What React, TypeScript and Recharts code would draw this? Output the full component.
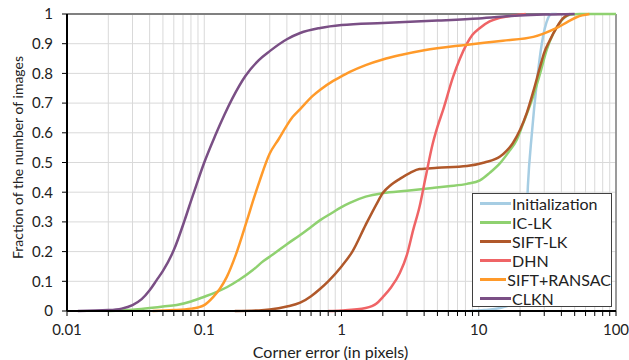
import React from 'react';
import { LineChart, Line, XAxis, YAxis, CartesianGrid, Legend, ReferenceLine } from 'recharts';

// Cumulative error curves
const initX = [8.6, 11, 14.3, 17, 20, 21, 22, 22.8, 24.4, 26.5, 28.8, 31.9, 34, 37];
const initY = [0, 0.003, 0.01, 0.02, 0.037, 0.08, 0.25, 0.42, 0.6, 0.77, 0.9, 0.985, 1, 1];

const iclkX = [0.02, 0.03, 0.04, 0.05, 0.063, 0.08, 0.1, 0.12, 0.146, 0.18, 0.226, 0.27, 0.316, 0.4, 0.5, 0.6, 0.7, 0.85, 1, 1.15, 1.5, 2, 3, 4.6, 6, 8.2, 10.2, 12, 14.3, 16.5, 18.9, 21, 24.8, 28, 31.3, 35, 38.9, 46, 54.5, 100];
const iclkY = [0, 0.004, 0.01, 0.015, 0.02, 0.032, 0.048, 0.062, 0.08, 0.105, 0.138, 0.168, 0.19, 0.225, 0.256, 0.283, 0.306, 0.33, 0.35, 0.364, 0.385, 0.397, 0.405, 0.414, 0.42, 0.428, 0.44, 0.465, 0.498, 0.535, 0.576, 0.63, 0.72, 0.8, 0.88, 0.935, 0.97, 0.997, 1, 1];

const siftlkX = [0.167, 0.25, 0.3, 0.4, 0.5, 0.6, 0.7, 0.8, 1, 1.2, 1.5, 1.8, 2, 2.3, 2.66, 3.16, 3.7, 5, 8.2, 11, 14.3, 16, 17.7, 20, 22.4, 25, 27.9, 30, 33, 37, 41, 46];
const siftlkY = [0, 0.002, 0.005, 0.015, 0.028, 0.05, 0.075, 0.1, 0.15, 0.2, 0.29, 0.36, 0.397, 0.425, 0.445, 0.465, 0.478, 0.482, 0.488, 0.5, 0.52, 0.54, 0.565, 0.61, 0.667, 0.74, 0.82, 0.87, 0.912, 0.955, 0.985, 1];

const dhnX = [0.8, 1, 1.5, 1.8, 2, 2.3, 2.66, 3, 3.33, 3.7, 4.1, 4.6, 5, 5.5, 6.5, 7.3, 8.2, 9, 10.2, 12, 14.3, 18, 22];
const dhnY = [0, 0.002, 0.01, 0.025, 0.047, 0.08, 0.128, 0.19, 0.273, 0.35, 0.45, 0.56, 0.62, 0.677, 0.788, 0.85, 0.9, 0.93, 0.953, 0.975, 0.987, 0.995, 1];

const ransacX = [0.042, 0.06, 0.08, 0.09, 0.1, 0.116, 0.13, 0.146, 0.17, 0.205, 0.23, 0.254, 0.3, 0.35, 0.4, 0.44, 0.5, 0.62, 0.7, 0.87, 1, 1.15, 1.5, 2, 2.7, 4, 8, 15, 25, 30, 37, 45, 52, 64];
const ransacY = [0, 0.003, 0.008, 0.012, 0.02, 0.047, 0.075, 0.115, 0.19, 0.306, 0.38, 0.44, 0.53, 0.58, 0.625, 0.653, 0.68, 0.725, 0.745, 0.775, 0.79, 0.805, 0.828, 0.847, 0.862, 0.878, 0.896, 0.91, 0.923, 0.935, 0.953, 0.975, 0.99, 1];

const clknX = [0.012, 0.02, 0.025, 0.03, 0.035, 0.04, 0.045, 0.05, 0.06, 0.072, 0.08, 0.09, 0.1, 0.12, 0.14, 0.16, 0.2, 0.25, 0.3, 0.4, 0.5, 0.7, 1, 2, 5, 10, 20, 30, 50];
const clknY = [0, 0.003, 0.008, 0.02, 0.04, 0.07, 0.104, 0.135, 0.205, 0.306, 0.37, 0.44, 0.5, 0.59, 0.66, 0.715, 0.792, 0.845, 0.875, 0.915, 0.936, 0.953, 0.963, 0.97, 0.978, 0.985, 0.995, 0.998, 1];

const decades = [0.01, 0.1, 1, 10, 100];
const xTicks = [
  0.01, 0.02, 0.03, 0.04, 0.05, 0.06, 0.07, 0.08, 0.09,
  0.1, 0.2, 0.3, 0.4, 0.5, 0.6, 0.7, 0.8, 0.9,
  1, 2, 3, 4, 5, 6, 7, 8, 9,
  10, 20, 30, 40, 50, 60, 70, 80, 90,
  100,
];
const yTicks = [0, 0.1, 0.2, 0.3, 0.4, 0.5, 0.6, 0.7, 0.8, 0.9, 1];

const series = [
  { name: 'Initialization', color: '#a6cde3', x: initX, y: initY },
  { name: 'IC-LK', color: '#8fd170', x: iclkX, y: iclkY },
  { name: 'SIFT-LK', color: '#b0582a', x: siftlkX, y: siftlkY },
  { name: 'DHN', color: '#ef6466', x: dhnX, y: dhnY },
  { name: 'SIFT+RANSAC', color: '#ff9a2a', x: ransacX, y: ransacY },
  { name: 'CLKN', color: '#7a4f85', x: clknX, y: clknY },
];

const FONT = 'Lato, "Liberation Sans", sans-serif';
const TEXT = '#222';

document.body.style.margin = '0';

function LegendBox() {
  return (
    <div
      style={{
        width: 140,
        height: 114,
        boxSizing: 'border-box',
        border: '1px solid #404040',
        background: '#fff',
        paddingLeft: 7,
        fontFamily: FONT,
        fontSize: 16,
        color: TEXT,
      }}
    >
      {series.map((s) => (
        <div key={s.name} style={{ height: 19, display: 'flex', alignItems: 'center' }}>
          <span style={{ width: 31, height: 3, background: s.color, display: 'inline-block' }} />
          <span style={{ marginLeft: 1 }}>{s.name}</span>
        </div>
      ))}
    </div>
  );
}

function YTitle(props: any) {
  const { x, y, height } = props.viewBox;
  const cx = x + 17;
  const cy = y + height / 2 - 5;
  return (
    <text
      x={cx}
      y={cy}
      transform={`rotate(-90, ${cx}, ${cy})`}
      textAnchor="middle"
      dominantBaseline="central"
      fontFamily={FONT}
      fontSize={14}
      fill={TEXT}
    >
      Fraction of the number of images
    </text>
  );
}

function XTitle(props: any) {
  const { x, y, width } = props.viewBox;
  return (
    <text
      x={x + width / 2 - 11}
      y={y + 40}
      textAnchor="middle"
      dominantBaseline="central"
      fontFamily={FONT}
      fontSize={16}
      fill={TEXT}
    >
      Corner error (in pixels)
    </text>
  );
}

export default function App() {
  return (
    <div style={{ width: 629, height: 360, background: '#fff' }}>
      <LineChart width={629} height={360} margin={{ top: 14, right: 13, left: 0, bottom: 0 }}>
        <CartesianGrid stroke="#d9d9d9" strokeWidth={1} />
        <XAxis
          dataKey="x"
          type="number"
          scale="log"
          domain={[0.01, 100]}
          allowDataOverflow
          ticks={xTicks}
          interval={0}
          tickFormatter={(v: number) => (decades.includes(v) ? String(v) : '')}
          height={49}
          tickSize={5}
          tickMargin={8}
          axisLine={{ stroke: '#000', strokeWidth: 2 }}
          tickLine={{ stroke: '#000' }}
          tick={{ fill: TEXT, fontSize: 15, fontFamily: FONT }}
          label={<XTitle />}
        />
        <YAxis
          type="number"
          domain={[0, 1]}
          ticks={yTicks}
          interval={0}
          width={67}
          tickSize={5}
          tickMargin={9}
          axisLine={{ stroke: '#000', strokeWidth: 2 }}
          tickLine={{ stroke: '#000' }}
          tick={{ fill: TEXT, fontSize: 15, fontFamily: FONT }}
          tickFormatter={(v: number) => String(v)}
          label={<YTitle />}
        />
        <ReferenceLine y={1} stroke="#808080" strokeWidth={2} />
        <ReferenceLine x={100} stroke="#808080" strokeWidth={1.5} />
        {series.map((s) => (
          <Line
            key={s.name}
            name={s.name}
            data={s.x.map((x, i) => ({ x, y: s.y[i] }))}
            dataKey="y"
            type="monotone"
            stroke={s.color}
            strokeWidth={2.5}
            dot={false}
            activeDot={false}
            isAnimationActive={false}
          />
        ))}
        <Legend
          layout="horizontal"
          verticalAlign="middle"
          align="center"
          content={<LegendBox />}
          wrapperStyle={{ left: 472, top: 193, width: 140, height: 114 }}
        />
      </LineChart>
    </div>
  );
}
